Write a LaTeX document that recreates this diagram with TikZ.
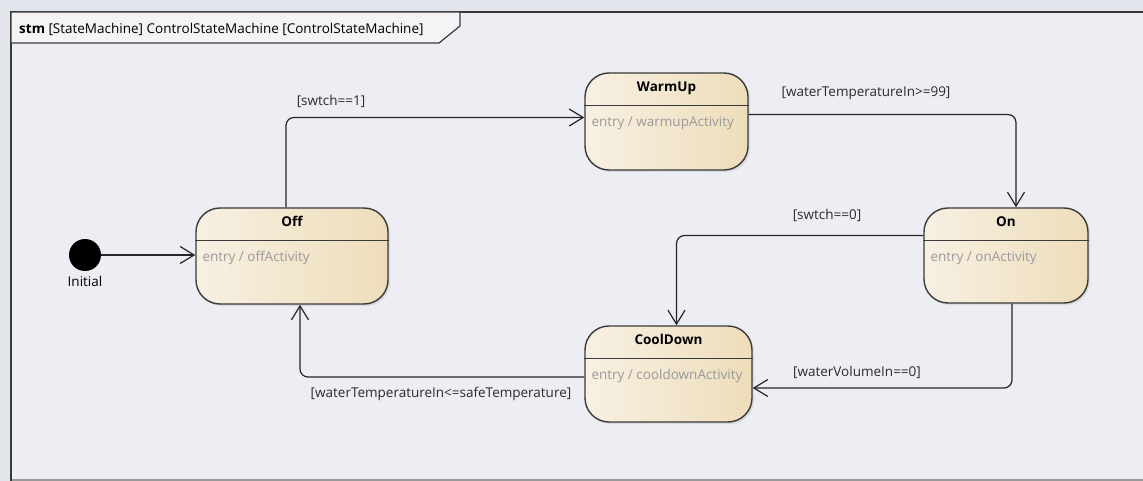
\documentclass[tikz,border=0pt]{standalone}
\usepackage{fontspec}
\setmainfont{Open Sans}
\usepackage{xcolor}
\definecolor{Canvas}{HTML}{EDEEF3}
\definecolor{Outside}{HTML}{E3E5ED}
\definecolor{TabFill}{HTML}{F6F3F6}
\definecolor{FrameLine}{HTML}{3A3A3A}
\definecolor{StateLeft}{HTML}{F7F0E2}
\definecolor{StateRight}{HTML}{EEDDBA}
\definecolor{ActGray}{HTML}{9A9A9A}
\definecolor{GuardInk}{HTML}{2A2A33}
\usepackage{tikz}
\usetikzlibrary{arrows.meta,positioning,shadows}

\begin{document}
\begin{tikzpicture}[x=1pt,y=-1pt,
  every node/.style={font=\fontsize{13.5}{16}\selectfont,inner sep=0pt},
  statebox/.style={draw=FrameLine,line width=1.4pt,rounded corners=24pt,left color=StateLeft,right color=StateRight,
    drop shadow={opacity=0.18,shadow xshift=2pt,shadow yshift=-2pt}},
  statetitle/.style={font=\fontsize{13.5}{16}\selectfont\bfseries,anchor=north},
  activity/.style={text=ActGray,anchor=north west},
  guard/.style={text=GuardInk},
  trans/.style={draw=black!85,line width=1.2pt,rounded corners=8pt,-{Straight Barb[length=14pt,width=17pt,line width=1.2pt]}}]
\useasboundingbox (0,0) rectangle (1143,481);
% frame
\fill[Outside] (0,0) rectangle (1143,481);
\fill[Canvas] (11,12) rectangle (1143,479);
\draw[black!40,line width=1.5pt] (11,480) -- (1143,480);
\draw[FrameLine,line width=1.5pt] (11,481) -- (11,12) -- (1143,12);
\draw[FrameLine,line width=1.2pt,fill=TabFill] (11,12) -- (460,12) -- (460,26) -- (439,43) -- (11,43) -- cycle;
\node[anchor=west] (tab) at (19,29) {\textbf{stm} [StateMachine] ControlStateMachine [ControlStateMachine]};
% states
\node[statebox,minimum width=192pt,minimum height=96pt] (off) at (292,256) {};
\node[statebox,minimum width=163pt,minimum height=97pt] (warmup) at (666.5,121.5) {};
\node[statebox,minimum width=164pt,minimum height=95pt] (on) at (1006,255.5) {};
\node[statebox,minimum width=167pt,minimum height=96pt] (cool) at (668.5,374) {};
\foreach \s in {off,warmup,on,cool}
  \draw[FrameLine,line width=1.2pt] ([yshift=-33pt]\s.north west) -- ([yshift=-33pt]\s.north east);
\node[statetitle] (offT) at ([yshift=-9pt]off.north) {Off};
\node[statetitle] (warmupT) at ([yshift=-9pt]warmup.north) {WarmUp};
\node[statetitle] (onT) at ([yshift=-9pt]on.north) {On};
\node[statetitle] (coolT) at ([yshift=-9pt]cool.north) {CoolDown};
\node[activity] (offA) at ([xshift=7pt,yshift=-44pt]off.north west) {entry / offActivity};
\node[activity] (warmupA) at ([xshift=7pt,yshift=-44pt]warmup.north west) {entry / warmupActivity};
\node[activity] (onA) at ([xshift=7pt,yshift=-44pt]on.north west) {entry / onActivity};
\node[activity] (coolA) at ([xshift=7pt,yshift=-44pt]cool.north west) {entry / cooldownActivity};
% initial
\node[circle,fill=black,minimum size=32pt] (init) at (85,255) {};
\node[below=5pt of init] (initL) {Initial};
% transitions
\draw[trans] (init) -- (off.west |- init);
\draw[trans] ([xshift=-6pt]off.north) |- ([yshift=4pt]warmup.west);
\draw[trans] ([yshift=7pt]warmup.east) -| ([xshift=10pt]on.north);
\draw[trans] ([yshift=20pt]on.west) -| ([xshift=8pt]cool.north);
\draw[trans] ([xshift=6pt]on.south) |- ([yshift=-14pt]cool.east);
\draw[trans] ([yshift=-3pt]cool.west) -| ([xshift=8pt]off.south);
% guards
\node[guard] (g1) at (331,101) {[swtch==1]};
\node[guard] (g2) at (866,93) {[waterTemperatureIn>=99]};
\node[guard] (g3) at (827,215) {[swtch==0]};
\node[guard] (g4) at (857,372) {[waterVolumeIn==0]};
\node[guard] (g5) at (441,394) {[waterTemperatureIn<=safeTemperature]};
\end{tikzpicture}
\end{document}
